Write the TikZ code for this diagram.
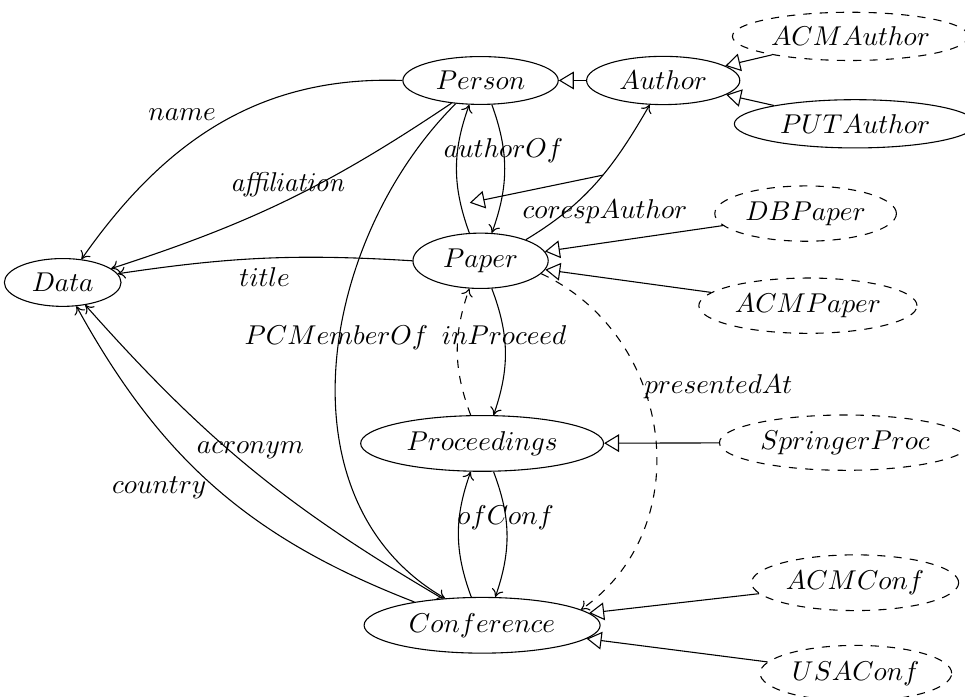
\documentclass[tikz,border=0pt]{standalone}
\usepackage{tikz}
\usetikzlibrary{arrows.meta,shapes.geometric}

\begin{document}
\begin{tikzpicture}[
    cls/.style={draw, ellipse, inner xsep=3.8pt, inner ysep=2.8pt},
    subcls/.style={cls, dashed, inner xsep=1.5pt},
    rel/.style={-{To[length=2.8pt, width=4.4pt]}},
    isa/.style={-{Triangle[open, length=5.5pt, width=6.5pt]}}
  ]
    \useasboundingbox (0,0) rectangle (12.47,9.00);

    \node[cls] (person) at (6.21,7.96) {$Person$};
    \node[cls] (author) at (8.57,7.96) {$Author$};
    \node[subcls] (acmauthor) at (10.99,8.53) {$ACMAuthor$};
    \node[cls] (putauthor) at (11.05,7.40) {$PUTAuthor$};
    \node[cls] (data) at (0.81,5.35) {$Data$};
    \node[cls] (paper) at (6.21,5.63) {$Paper$};
    \node[subcls] (dbpaper) at (10.41,6.24) {$DBPaper$};
    \node[subcls] (acmpaper) at (10.44,5.05) {$ACMPaper$};
    \node[cls] (proceedings) at (6.23,3.27) {$Proceedings$};
    \node[subcls] (springerproc) at (10.92,3.28) {$SpringerProc$};
    \node[cls] (conference) at (6.23,0.92) {$Conference$};
    \node[subcls] (acmconf) at (11.05,1.47) {$ACMConf$};
    \node[subcls] (usaconf) at (11.06,0.30) {$USAConf$};

    \draw[rel] (person.west) to[out=178, in=55] node[pos=.5, anchor=south east, inner sep=1pt] {$name$} (data.51);
    \draw[rel] (person.218) to[bend left=8] node[pos=.5, above, inner sep=1pt] {$\mathit{affiliation}$} (data.16);
    \draw[rel] (person.223) to[out=225, in=150] node[pos=.45, xshift=-1pt] {$PCMemberOf$} (conference.144);
    \draw[rel] (paper.112) to[bend left=20] (person.245);
    \draw[rel] (person.295) to[bend left=20] node[pos=.35] {$authorOf$} (paper.68);
    \draw[rel] (paper.25) to[out=31, in=240] coordinate[pos=.55] (ca) node[pos=.2, xshift=17pt, yshift=2pt] {$corespAuthor$} (author.241);
    \coordinate (ao) at (6.07,6.38);
    \draw[isa] (ca) -- (ao);
    \draw[rel] (paper.west) to[bend right=6] node[pos=.5, below] {$title$} (data.9);
    \draw[rel] (paper.292) to[bend left=20] node[pos=.36] {$inProceed$} (proceedings.68);
    \draw[rel, dashed] (proceedings.112) to[bend left=20] (paper.248);
    \draw[rel] (conference.111) to[bend left=20] (proceedings.248);
    \draw[rel] (proceedings.292) to[bend left=20] node[pos=.36] {$ofConf$} (conference.65);
    \draw[rel, dashed] (paper.-12) to[out=-25, in=35, looseness=1.1] node[pos=.38, anchor=west, inner sep=0pt] {$presentedAt$} (conference.9);
    \draw[rel] (conference.146) to[bend left=9] node[pos=.5, above] {$acronym$} (data.-45);
    \draw[rel] (conference.161) to[bend left=20] node[pos=.5, left] {$country$} (data.-60);

    \foreach \a/\b in {author/person, acmauthor/author, putauthor/author,
                       dbpaper/paper, acmpaper/paper, springerproc/proceedings,
                       acmconf/conference, usaconf/conference}
      \draw[isa] (\a) -- (\b);
  \end{tikzpicture}
\end{document}
